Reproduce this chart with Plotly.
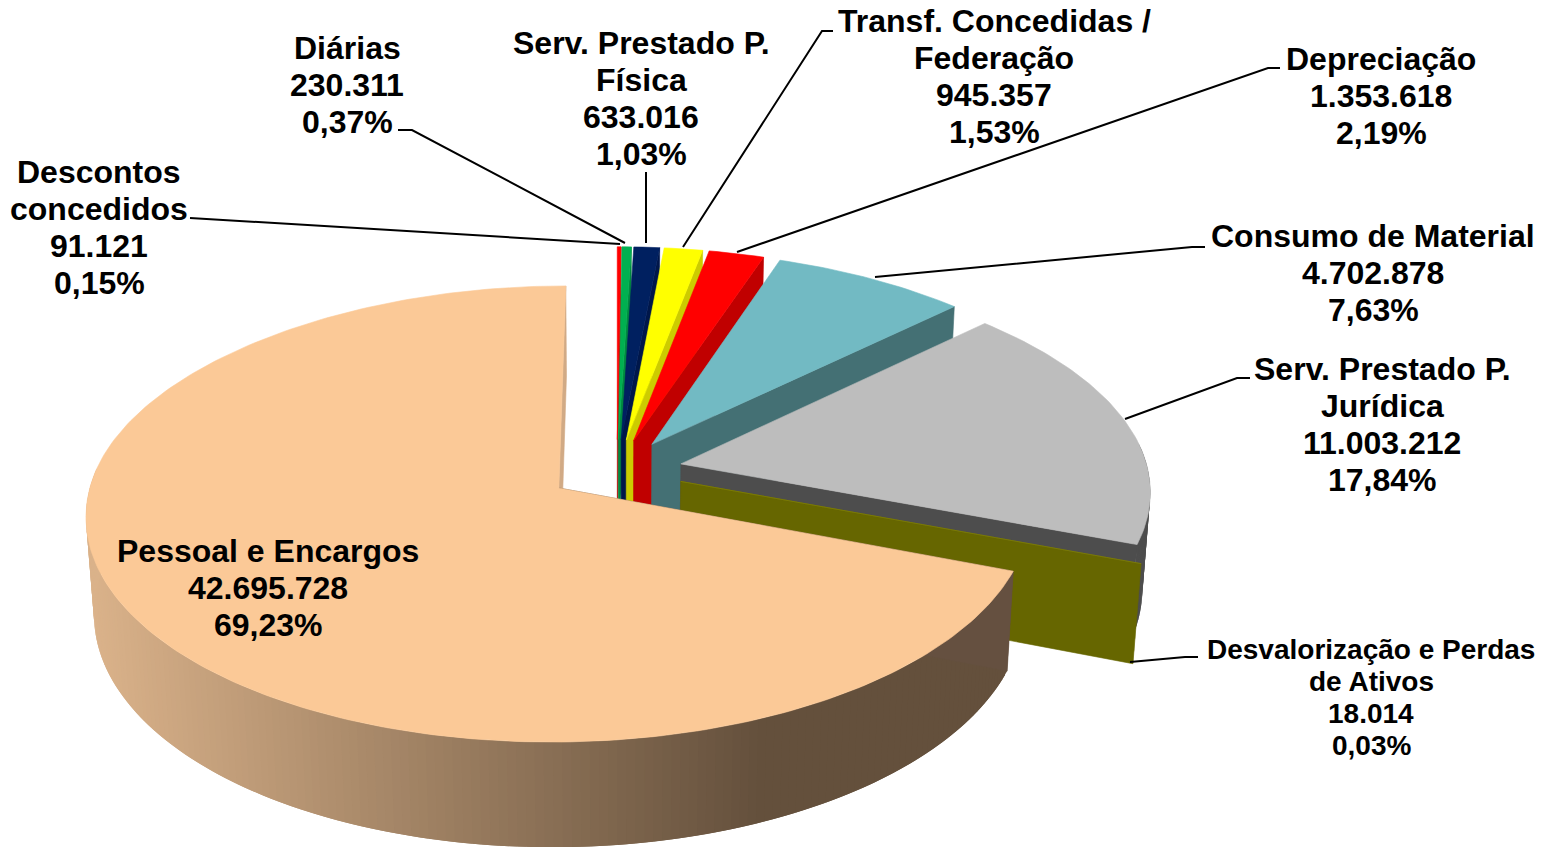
import math
import plotly.graph_objects as go

# ---- data, clockwise from 12 o'clock ----
categories = ["Descontos concedidos", "Diárias", "Serv. Prestado P. Física",
              "Transf. Concedidas / Federação", "Depreciação", "Consumo de Material",
              "Serv. Prestado P. Jurídica", "Desvalorização e Perdas de Ativos",
              "Pessoal e Encargos"]
values = [91121, 230311, 633016, 945357, 1353618, 4702878, 11003212, 18014, 42695728]
value_labels = ["91.121", "230.311", "633.016", "945.357", "1.353.618", "4.702.878",
                "11.003.212", "18.014", "42.695.728"]
percent_labels = ["0,15%", "0,37%", "1,03%", "1,53%", "2,19%", "7,63%", "17,84%", "0,03%", "69,23%"]
name_lines = [["Descontos", "concedidos"], ["Diárias"], ["Serv. Prestado P.", "Física"],
              ["Transf. Concedidas /", "Federação"], ["Depreciação"], ["Consumo de Material"],
              ["Serv. Prestado P.", "Jurídica"], ["Desvalorização e Perdas", "de Ativos"],
              ["Pessoal e Encargos"]]

# ---- styles and layout ----
top_colors = ["#FF0000", "#00B050", "#002060", "#FFFF00", "#FF0000", "#72BAC3", "#BDBDBD", "#808000", "#FBC997"]
wall_colors = ["#C00000", "#008A40", "#00174A", "#CCCC00", "#C00000", "#447074", "#4D4D4D", "#666600", "#655040"]
label_x = [99, 347, 641, 994, 1381, 1373, 1382, 1371, 268]
label_y0 = [172, 48, 43, 21, 59, 236, 369, 649, 551]
label_step = [37, 37, 37, 37, 37, 37, 37, 32, 37]
label_size = [32, 32, 32, 32, 32, 32, 32, 28, 32]
explode_x = [0.14, 0.14, 0.14, 0.14, 0.14, 0.14, 0.14, 0.145, 0.15]
explode_y = [0.14, 0.14, 0.14, 0.14, 0.14, 0.14, 0.14, 0.145, 0.142]
radius_x = [1, 1, 1, 1, 1, 1, 1, 1, 0.995]
leaders = [[(190, 218), (620, 244)],
           [(398, 130), (412, 130), (625, 243)],
           [(646, 172), (646, 243)],
           [(833, 31), (822, 31), (683, 247)],
           [(1280, 68), (1268, 68), (737, 252)],
           [(1205, 247), (1192, 247), (875, 277)],
           [(1250, 378), (1237, 378), (1125, 419)],
           [(1198, 657), (1185, 657), (1130, 662)]]

# ---- projection of the tilted disc ----
CX, CY, AX, BY_, DEPTH, K, M, BACK = 617.0, 470.0, 467.0, 221.0, 98.0, 0.113, 0.015, 0.026


def project(px, py, low):
    w = 1 - K * py + (M if low else 0)
    wx = w + (BACK * py * py if py < 0 else 0)
    return CX + AX * px / wx, CY + (BY_ * py + (DEPTH if low else 0)) / w


def polygon(points, color, edge=0.6):
    return go.Scatter(x=[p[0] for p in points] + [points[0][0]],
                      y=[p[1] for p in points] + [points[0][1]],
                      mode="lines", fill="toself", fillcolor=color,
                      line=dict(color=color, width=edge), hoverinfo="skip", showlegend=False)


def gradient(sx):
    f = min(max((sx - 90) / (760 - 90), 0), 1)
    a, b = (0xDA, 0xB2, 0x8A), (0x64, 0x50, 0x3C)
    return "rgb(%d,%d,%d)" % tuple(round(a[i] + (b[i] - a[i]) * f) for i in range(3))


fig = go.Figure()
total = sum(values)
start = 0.0
last = len(values) - 1
for i, v in enumerate(values):
    t1 = start
    t2 = start + v / total * 2 * math.pi
    start = t2
    mid = (t1 + t2) / 2
    ox, oy = explode_x[i] * math.sin(mid), -explode_y[i] * math.cos(mid)
    wall, top = wall_colors[i], top_colors[i]
    steps = max(2, int((t2 - t1) / math.radians(1.0)))
    ts = [t1 + (t2 - t1) * s / steps for s in range(steps + 1)]
    rim = [(ox + radius_x[i] * math.sin(t), oy - math.cos(t)) for t in ts]
    front = [p for t, p in zip(ts, rim) if -math.cos(t) > -0.1]

    if i == last:
        fig.add_trace(polygon([project(ox, oy, False), project(*rim[-1], False),
                               project(*rim[-1], True), project(ox, oy, True)], "#D1AA85"))
    # outer wall, only the part that faces the viewer
    for s in range(len(front) - 1):
        a, b = front[s], front[min(s + 2, len(front) - 1)]
        ta, tb = project(*a, False), project(*front[s + 1], False)
        col = gradient((ta[0] + tb[0]) / 2) if i == last else wall
        fig.add_trace(polygon([project(*a, False), project(*b, False),
                               project(*b, True), project(*a, True)], col, 0))
    # radial wall facing the viewer
    edge = rim[0] if i == last else rim[-1]
    fig.add_trace(polygon([project(ox, oy, False), project(*edge, False),
                           project(*edge, True), project(ox, oy, True)], wall))
    # top face
    fig.add_trace(polygon([project(ox, oy, False)] + [project(*p, False) for p in rim], top))

for line in leaders:
    fig.add_trace(go.Scatter(x=[p[0] for p in line], y=[p[1] for p in line], mode="lines",
                             line=dict(color="black", width=2), hoverinfo="skip", showlegend=False))

for i in range(len(categories)):
    lines = name_lines[i] + [value_labels[i], percent_labels[i]]
    for n, text in enumerate(lines):
        fig.add_annotation(x=label_x[i], y=label_y0[i] + n * label_step[i], xref="x", yref="y",
                           text="<b>%s</b>" % text, showarrow=False,
                           xanchor="center", yanchor="middle", align="center",
                           font=dict(family="Liberation Sans", size=label_size[i], color="black"))

fig.update_layout(width=1552, height=847, margin=dict(l=0, r=0, t=0, b=0),
                  paper_bgcolor="white", plot_bgcolor="white", showlegend=False,
                  xaxis=dict(range=[0, 1552], visible=False, fixedrange=True),
                  yaxis=dict(range=[847, 0], visible=False, fixedrange=True))
fig.write_html("out.html", config=dict(displayModeBar=False),
               post_script="document.body.style.margin='0';document.body.style.overflow='hidden';")
